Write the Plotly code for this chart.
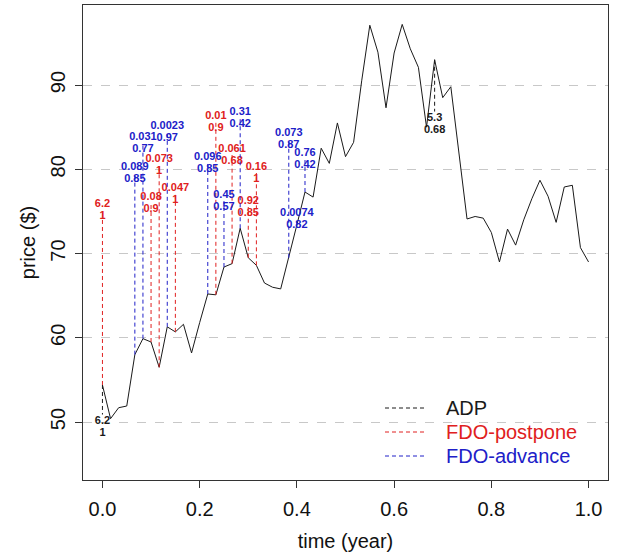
import plotly.graph_objects as go

# ---------------- data ----------------
n_steps = 60
prices = [54.4, 50.4, 51.7, 51.9, 58.0, 59.9, 59.5, 56.5, 61.3, 60.7,
          61.6, 58.2, 61.8, 65.2, 65.1, 68.4, 68.8, 73.0, 69.5, 68.6,
          66.5, 66.0, 65.8, 69.5, 73.4, 77.3, 76.7, 82.5, 80.7, 85.5,
          81.5, 83.2, 90.5, 97.1, 93.9, 87.3, 93.8, 97.2, 94.3, 92.1,
          85.0, 93.0, 88.5, 89.8, 82.0, 74.1, 74.4, 74.2, 72.5, 69.0,
          72.9, 71.0, 74.0, 76.5, 78.7, 76.8, 73.7, 77.9, 78.1, 70.7, 69.0]
times = [k / n_steps for k in range(len(prices))]

# ADP labels (placed below the price)
adp_idx = [0, 41]
adp_top = ["6.2", "5.3"]
adp_bot = ["1", "0.68"]
adp_laby = [50.12, 86.08]

# FDO-postpone labels
post_idx = [0, 6, 7, 9, 14, 16, 18, 19]
post_top = ["6.2", "0.08", "0.073", "0.047", "0.01", "0.061", "0.92", "0.16"]
post_bot = ["1", "0.9", "1", "1", "0.9", "0.68", "0.85", "1"]
post_laby = [75.88, 76.71, 81.22, 77.78, 86.32, 82.40, 76.23, 80.27]

# FDO-advance labels
adv_idx = [4, 5, 8, 13, 15, 17, 23, 24, 25]
adv_top = ["0.089", "0.031", "0.0023", "0.096", "0.45", "0.31", "0.073", "0.0074", "0.76"]
adv_bot = ["0.85", "0.77", "0.97", "0.85", "0.57", "0.42", "0.87", "0.82", "0.42"]
adv_laby = [80.27, 83.83, 85.13, 81.45, 76.94, 86.80, 84.30, 74.81, 81.93]

legend_names = ["ADP", "FDO-postpone", "FDO-advance"]

# ---------------- style ----------------
BLACK = "#1a1a1a"
RED = "#e02020"
BLUE = "#2020c8"
FONT = "Liberation Sans, Arial, sans-serif"
Y0, Y1 = 43.12, 99.50
X0, X1 = -0.04, 1.04
W, H = 618, 558
ML, MR, MT, MB = 83, 10, 5, 78
ppu = (H - MT - MB) / (Y1 - Y0)   # pixels per price unit
ROW = 12.5 / ppu                  # gap between the two label rows
GAP = 6.5 / ppu                   # gap between dashed end and label

fig = go.Figure()


def add_group(idx, tops, bots, laby, color, below=False):
    xs, ys = [], []
    tx, ty, tt = [], [], []
    for i, k in enumerate(idx):
        t = times[k]
        p = prices[k]
        if below:
            end = laby[i] + GAP
            y2 = laby[i] - ROW
        else:
            y2 = laby[i] - ROW
            end = y2 + GAP
        xs += [t, t, None]
        ys += [p, end, None]
        tx += [t, t]
        ty += [laby[i], y2]
        tt += [tops[i], bots[i]]
    fig.add_trace(go.Scatter(x=xs, y=ys, mode="lines",
                             line=dict(color=color, width=1, dash="4px,3px"),
                             hoverinfo="skip", showlegend=False))
    fig.add_trace(go.Scatter(x=tx, y=ty, mode="text", text=tt,
                             textposition="middle center",
                             textfont=dict(family=FONT, size=11, color=color, weight="bold"),
                             hoverinfo="skip", showlegend=False))


# price path
fig.add_trace(go.Scatter(x=times, y=prices, mode="lines",
                         line=dict(color=BLACK, width=1),
                         hoverinfo="skip", showlegend=False))

add_group(post_idx, post_top, post_bot, post_laby, RED)
add_group(adv_idx, adv_top, adv_bot, adv_laby, BLUE)
add_group(adp_idx, adp_top, adp_bot, adp_laby, BLACK, below=True)

# manual legend (no box)
pw, ph = W - ML - MR, H - MT - MB
leg_rows = [408, 432, 456]
leg_cols = [BLACK, RED, BLUE]
shapes = []
annotations = []
for name, row, col in zip(legend_names, leg_rows, leg_cols):
    yp = (H - MB - row) / ph
    shapes.append(dict(type="line", xref="paper", yref="paper",
                       x0=(385 - ML) / pw, x1=(425 - ML) / pw, y0=yp, y1=yp,
                       line=dict(color=col, width=1, dash="4px,3px")))
    annotations.append(dict(xref="paper", yref="paper", x=(444 - ML) / pw, y=yp,
                            text=name, showarrow=False, xanchor="left", yanchor="middle",
                            font=dict(family=FONT, size=20, color=col)))

fig.update_layout(
    width=W, height=H,
    margin=dict(l=ML, r=MR, t=MT, b=MB),
    paper_bgcolor="white", plot_bgcolor="white",
    font=dict(family=FONT, size=20, color="#111111"),
    shapes=shapes, annotations=annotations,
    showlegend=False,
    xaxis=dict(range=[X0, X1], showgrid=False, zeroline=False,
               tickvals=[0, 0.2, 0.4, 0.6, 0.8, 1.0],
               ticktext=["0.0", "0.2", "0.4", "0.6", "0.8", "1.0"],
               ticks="outside", ticklen=7, tickcolor="#333333",
               showline=True, mirror=True, linecolor="#333333", linewidth=1,
               tickfont=dict(size=20), ticklabelstandoff=4,
               title=dict(text="time (year)", font=dict(size=20), standoff=14)),
    yaxis=dict(range=[Y0, Y1], zeroline=False,
               tickvals=[50, 60, 70, 80, 90],
               showgrid=True, gridcolor="#c8c8c8", griddash="dash", gridwidth=1,
               ticks="outside", ticklen=7, tickcolor="#333333", tickangle=-90,
               showline=True, mirror=True, linecolor="#333333", linewidth=1,
               tickfont=dict(size=20), ticklabelstandoff=2,
               title=dict(text="price ($)", font=dict(size=20), standoff=6)),
)

fig.write_html("out.html")
